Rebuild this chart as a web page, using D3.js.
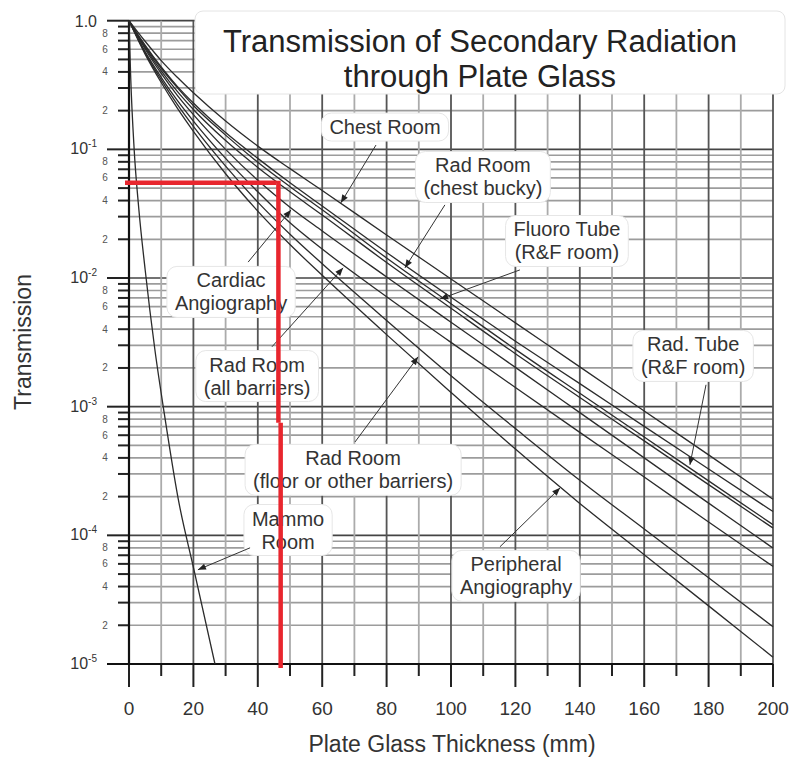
<!DOCTYPE html>
<html>
<head>
<meta charset="utf-8">
<script src="https://cdn.jsdelivr.net/npm/d3@7"></script>
<style>
  body { margin: 0; background: #fff; }
  svg { display: block; }
  text { font-family: "Liberation Sans", Arial, sans-serif; }
</style>
</head>
<body>
<div id="chart"></div>
<script>
const thickness = [0, 5, 10, 15, 20, 30, 40, 50, 60, 80, 100, 120, 140, 160, 180, 200];

// transmission values per barrier type
const chestRoom = [1, 0.692, 0.490, 0.363, 0.275, 0.166, 0.106, 0.0708, 0.0479, 0.0216, 0.00984, 0.00448, 0.00204, 0.000927, 0.000422, 0.000191];
const radRoomChestBucky = [1, 0.646, 0.437, 0.309, 0.229, 0.135, 0.0851, 0.0550, 0.0363, 0.0158, 0.00708, 0.00323, 0.00151, 0.000703, 0.000328, 0.000153];
const fluoroTube = [1, 0.631, 0.427, 0.302, 0.219, 0.129, 0.0794, 0.0513, 0.0339, 0.0143, 0.00631, 0.00279, 0.00127, 0.000581, 0.000265, 0.000121];
const radTube = [1, 0.617, 0.407, 0.282, 0.204, 0.117, 0.0724, 0.0468, 0.0309, 0.0132, 0.00582, 0.00258, 0.00118, 0.000542, 0.000248, 0.000114];
const cardiacAngio = [1, 0.603, 0.389, 0.263, 0.186, 0.100, 0.0575, 0.0355, 0.0232, 0.0102, 0.00453, 0.00202, 0.000899, 0.000400, 0.000178, 0.0000796];
const radRoomAll = [1, 0.575, 0.363, 0.240, 0.166, 0.0851, 0.0468, 0.0269, 0.0168, 0.00716, 0.00316, 0.00141, 0.000631, 0.000284, 0.000127, 0.0000573];
const radRoomFloor = [1, 0.562, 0.347, 0.224, 0.151, 0.0741, 0.0389, 0.0219, 0.0129, 0.00468, 0.00174, 0.000676, 0.000268, 0.000112, 0.0000468, 0.0000195];
const peripheralAngio = [1, 0.550, 0.331, 0.209, 0.138, 0.0646, 0.0331, 0.0182, 0.0105, 0.00363, 0.00129, 0.000468, 0.000177, 0.0000708, 0.0000283, 0.0000113];

// mammo curve drops off fast, so it has its own thickness points
const mammoThickness = [0, 0.5, 1.6, 3, 5, 8, 11, 15.3, 20.2, 26.7];
const mammoRoom = [1, 0.38, 0.1, 0.0355, 0.0117, 0.00282, 0.000871, 0.000191, 0.0000537, 0.00001];

const xTicks = [0, 20, 40, 60, 80, 100, 120, 140, 160, 180, 200];
const decades = [1e-5, 1e-4, 1e-3, 1e-2, 1e-1, 1];
const decadeLabels = ["-5", "-4", "-3", "-2", "-1", "1.0"];
const minorLabelDigits = [2, 4, 6, 8];

// label text, box centre, arrow start and arrow tip (data coords)
const labelLines = [
  ["Chest Room"],
  ["Rad Room", "(chest bucky)"],
  ["Fluoro Tube", "(R&F room)"],
  ["Cardiac", "Angiography"],
  ["Rad Room", "(all barriers)"],
  ["Rad. Tube", "(R&F room)"],
  ["Rad Room", "(floor or other barriers)"],
  ["Mammo", "Room"],
  ["Peripheral", "Angiography"]
];
const labelCenter = [[79.5, 0.149], [109.9, 0.061], [136.0, 0.0194], [31.7, 0.0078], [39.8, 0.00173], [175.2, 0.00248], [69.6, 0.000323], [49.4, 0.00011], [120.2, 0.0000484]];
const arrowFrom = [[76.7, 0.108], [98.1, 0.037], [121.4, 0.01156], [37.0, 0.0133], [44.4, 0.00292], [179.2, 0.00148], [70.2, 0.000532], [37.6, 0.00008], [115.2, 0.0000815]];
const arrowTip = [[65.8, 0.0384], [85.7, 0.012], [96.6, 0.00687], [50.3, 0.0338], [66.5, 0.012], [174.2, 0.000353], [89.8, 0.00244], [21.4, 0.000054], [133.9, 0.000234]];

// the red read-off lines
const redThickness = [46.4, 47.1];
const redTransmission = 0.055;
const redJogT = 7.5e-4;

const width = 792;
const height = 761;

const svg = d3.select("#chart").append("svg")
  .attr("width", width)
  .attr("height", height);

const x = d3.scaleLinear().domain([0, 200]).range([129, 773]);
const y = d3.scaleLog().domain([1e-5, 1]).range([664, 20.7]);

const defs = svg.append("defs");
defs.append("marker")
  .attr("id", "arrow")
  .attr("markerUnits", "userSpaceOnUse")
  .attr("viewBox", "0 -5 10 10")
  .attr("refX", 10)
  .attr("refY", 0)
  .attr("markerWidth", 10)
  .attr("markerHeight", 8)
  .attr("orient", "auto")
  .append("path")
  .attr("d", "M0,-4L10,0L0,4Z")
  .attr("fill", "#222");

// horizontal grid at every 1..9 x 10^k
const yGrid = [];
decades.slice(0, 5).forEach(d => {
  for (let m = 1; m < 10; m++) yGrid.push({ v: m * d, major: m === 1, m });
});
yGrid.push({ v: 1, major: true, m: 1 });

const grid = svg.append("g");
grid.selectAll(".hgrid")
  .data(yGrid)
  .enter().append("line")
  .attr("x1", x(0))
  .attr("x2", x(200))
  .attr("y1", d => y(d.v))
  .attr("y2", d => y(d.v))
  .attr("stroke", d => d.major ? "#444" : "#9c9c9c")
  .attr("stroke-width", 1.7);

grid.selectAll(".vgrid")
  .data(d3.range(10, 201, 10))
  .enter().append("line")
  .attr("x1", d => x(d))
  .attr("x2", d => x(d))
  .attr("y1", y(1))
  .attr("y2", y(1e-5))
  .attr("stroke", d => d % 20 === 0 ? "#555" : "#ababab")
  .attr("stroke-width", 1.8);

// ticks
svg.append("g").selectAll("line")
  .data(yGrid)
  .enter().append("line")
  .attr("x1", d => d.major ? 107 : 118)
  .attr("x2", x(0))
  .attr("y1", d => y(d.v))
  .attr("y2", d => y(d.v))
  .attr("stroke", "#222")
  .attr("stroke-width", 2);

svg.append("g").selectAll("line")
  .data(d3.range(0, 201, 10))
  .enter().append("line")
  .attr("x1", d => x(d))
  .attr("x2", d => x(d))
  .attr("y1", y(1e-5))
  .attr("y2", d => d % 20 === 0 ? 687 : 676)
  .attr("stroke", "#222")
  .attr("stroke-width", 2);

// axis lines
svg.append("line")
  .attr("x1", x(0)).attr("x2", x(0))
  .attr("y1", y(1)).attr("y2", y(1e-5))
  .attr("stroke", "#111").attr("stroke-width", 2.2);
svg.append("line")
  .attr("x1", 107).attr("x2", x(200))
  .attr("y1", y(1e-5)).attr("y2", y(1e-5))
  .attr("stroke", "#111").attr("stroke-width", 2.2);

// y tick labels
const yLab = svg.append("g").attr("fill", "#333");
decades.forEach((d, i) => {
  if (d === 1) {
    yLab.append("text")
      .attr("x", 97).attr("y", y(d) + 6)
      .attr("text-anchor", "end")
      .attr("font-size", "16px")
      .text(decadeLabels[i]);
  } else {
    const t = yLab.append("text")
      .attr("x", 97).attr("y", y(d) + 5)
      .attr("text-anchor", "end")
      .attr("font-size", "16px");
    t.append("tspan").text("10");
    t.append("tspan").attr("dy", -7).attr("font-size", "10px").text(decadeLabels[i]);
  }
});
yGrid.filter(d => minorLabelDigits.includes(d.m)).forEach(d => {
  yLab.append("text")
    .attr("x", 105).attr("y", y(d.v) + 3.5)
    .attr("text-anchor", "middle")
    .attr("font-size", "10px")
    .attr("fill", "#555")
    .text(d.m);
});

// x tick labels
svg.append("g").selectAll("text")
  .data(xTicks)
  .enter().append("text")
  .attr("x", d => x(d))
  .attr("y", 715)
  .attr("text-anchor", "middle")
  .attr("font-size", "19px")
  .attr("fill", "#333")
  .text(d => d);

// axis titles
svg.append("text")
  .attr("x", 452).attr("y", 752)
  .attr("text-anchor", "middle")
  .attr("font-size", "23px")
  .attr("fill", "#333")
  .text("Plate Glass Thickness (mm)");
svg.append("text")
  .attr("transform", "translate(31,342) rotate(-90)")
  .attr("text-anchor", "middle")
  .attr("font-size", "23px")
  .attr("fill", "#333")
  .text("Transmission");

// curves
const curves = [chestRoom, radRoomChestBucky, fluoroTube, radTube, cardiacAngio, radRoomAll, radRoomFloor, peripheralAngio]
  .map(vals => thickness.map((t, i) => [t, vals[i]]));
curves.push(mammoThickness.map((t, i) => [t, mammoRoom[i]]));

const line = d3.line()
  .x(d => x(d[0]))
  .y(d => y(d[1]))
  .curve(d3.curveMonotoneX);

svg.append("g").selectAll("path")
  .data(curves)
  .enter().append("path")
  .attr("d", line)
  .attr("fill", "none")
  .attr("stroke", "#2b2b2b")
  .attr("stroke-width", 1.3);

// title box
svg.append("rect")
  .attr("x", 195).attr("y", 11)
  .attr("width", 590).attr("height", 83)
  .attr("rx", 8)
  .attr("fill", "#fff")
  .attr("stroke", "#e4e4e4");
svg.append("text")
  .attr("x", 480).attr("y", 52)
  .attr("text-anchor", "middle")
  .attr("font-size", "31px")
  .attr("fill", "#222")
  .text("Transmission of Secondary Radiation");
svg.append("text")
  .attr("x", 480).attr("y", 87)
  .attr("text-anchor", "middle")
  .attr("font-size", "31px")
  .attr("fill", "#222")
  .text("through Plate Glass");

// labels and arrows
const ann = svg.append("g");
labelLines.forEach((lines, i) => {
  const cx = x(labelCenter[i][0]);
  const cy = y(labelCenter[i][1]);
  const g = ann.append("g");
  const box = g.append("rect");
  const txt = g.append("text")
    .attr("text-anchor", "middle")
    .attr("font-size", "20px")
    .attr("fill", "#333");
  lines.forEach((s, j) => {
    txt.append("tspan")
      .attr("x", cx)
      .attr("y", cy + (j - (lines.length - 1) / 2) * 23 + 7)
      .text(s);
  });
  const bb = txt.node().getBBox();
  box.attr("x", bb.x - 8).attr("y", bb.y - 3)
    .attr("width", bb.width + 16).attr("height", bb.height + 6)
    .attr("rx", 10)
    .attr("fill", "#fff")
    .attr("stroke", "#e6e6e6");
  ann.append("line")
    .attr("x1", x(arrowFrom[i][0])).attr("y1", y(arrowFrom[i][1]))
    .attr("x2", x(arrowTip[i][0])).attr("y2", y(arrowTip[i][1]))
    .attr("stroke", "#333")
    .attr("stroke-width", 1)
    .attr("marker-end", "url(#arrow)");
});

// red read-off lines
const red = svg.append("g").attr("stroke", "#e8262e").attr("stroke-width", 4.5).attr("fill", "none");
red.append("line")
  .attr("x1", x(0) - 4).attr("x2", x(redThickness[0]) - 2)
  .attr("y1", y(redTransmission)).attr("y2", y(redTransmission));
red.append("line")
  .attr("x1", x(redThickness[0])).attr("x2", x(redThickness[0]))
  .attr("y1", y(redTransmission) - 2).attr("y2", y(redJogT));
red.append("line")
  .attr("x1", x(redThickness[1])).attr("x2", x(redThickness[1]))
  .attr("y1", y(redJogT)).attr("y2", y(1e-5) + 4);
</script>
</body>
</html>
